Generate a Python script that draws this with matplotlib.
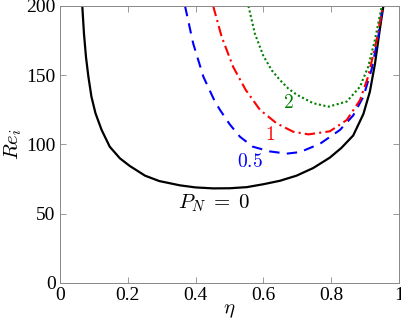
import matplotlib
matplotlib.use("Agg")
import matplotlib.pyplot as plt

# curve points (eta, Re_i)
eta_0 = [0.066, 0.071, 0.077, 0.084, 0.093, 0.105, 0.123, 0.147, 0.177, 0.206,
         0.251, 0.293, 0.354, 0.400, 0.452, 0.501, 0.551, 0.600, 0.649, 0.698,
         0.747, 0.796, 0.830, 0.865, 0.895, 0.914, 0.929, 0.944, 0.954]
re_0 = [200, 180, 163, 149, 134.5, 122.5, 110.5, 98.4, 90, 84.5,
        77.5, 73.6, 70.5, 69, 68.3, 68.4, 69.2, 71.3, 73.8, 77.5,
        83, 90.5, 97.5, 106.5, 122, 138, 158, 184, 200]

eta_05 = [0.369, 0.393, 0.423, 0.457, 0.472, 0.501, 0.531, 0.569, 0.619, 0.669,
          0.708, 0.767, 0.826, 0.865, 0.895, 0.919, 0.939, 0.952]
re_05 = [200, 173, 149, 131, 125, 114.5, 105.6, 98.4, 95, 93.4,
         94.5, 100.5, 110.5, 121, 134.5, 154, 178, 199.5]

eta_1 = [0.452, 0.477, 0.511, 0.548, 0.590, 0.639, 0.688, 0.733, 0.796, 0.846,
         0.885, 0.909, 0.934, 0.952]
re_1 = [200, 177.8, 156, 139.4, 125, 115.3, 109.2, 107.3, 109.5, 117.7,
        132, 149, 175.5, 199.5]

eta_2 = [0.556, 0.575, 0.600, 0.625, 0.649, 0.673, 0.698, 0.747, 0.792, 0.846,
         0.885, 0.909, 0.929, 0.949]
re_2 = [200, 180, 164, 153.5, 146.5, 140.5, 136, 129.8, 127.3, 131,
        141.7, 156, 175.5, 199.5]

plt.rcParams["mathtext.fontset"] = "cm"
plt.rcParams["font.family"] = "Liberation Serif"

fig = plt.figure(figsize=(4.02, 3.27), dpi=100)
ax = fig.add_axes([0.149, 0.1346, 0.8435, 0.8471])

ax.plot(eta_0, re_0, color="black", linewidth=1.6)
ax.plot(eta_05, re_05, color="blue", linewidth=1.5, linestyle=(0, (5, 3.5)))
ax.plot(eta_1, re_1, color="red", linewidth=1.5, linestyle=(0, (5, 2, 1, 2)))
ax.plot(eta_2, re_2, color="green", linewidth=1.5, linestyle=(0, (1, 1.2)))

# curve labels
ax.text(0.455, 57.5, r"$P_N\;=\;0$", fontsize=15, color="black", ha="center", va="center")
ax.text(0.560, 87.6, r"$0.5$", fontsize=14, color="blue", ha="center", va="center")
ax.text(0.619, 107, r"$1$", fontsize=14, color="red", ha="center", va="center")
ax.text(0.673, 129.7, r"$2$", fontsize=14, color="green", ha="center", va="center")

ax.set_xlim(0, 1)
ax.set_ylim(0, 200)
ax.set_xticks([0, 0.2, 0.4, 0.6, 0.8, 1])
ax.set_xticklabels(["0", "0.2", "0.4", "0.6", "0.8", "1"])
ax.set_yticks([0, 50, 100, 150, 200])
ax.tick_params(direction="in", top=True, right=True, length=4, width=0.6,
               color="#888888", labelsize=14, pad=3)
for s in ax.spines.values():
    s.set_color("#888888")
    s.set_linewidth(0.7)

ax.set_xlabel(r"$\eta$", fontsize=15, labelpad=-2)
ax.set_ylabel(r"$Re_i$", fontsize=15, labelpad=2)

fig.savefig("out.png", dpi=100)
